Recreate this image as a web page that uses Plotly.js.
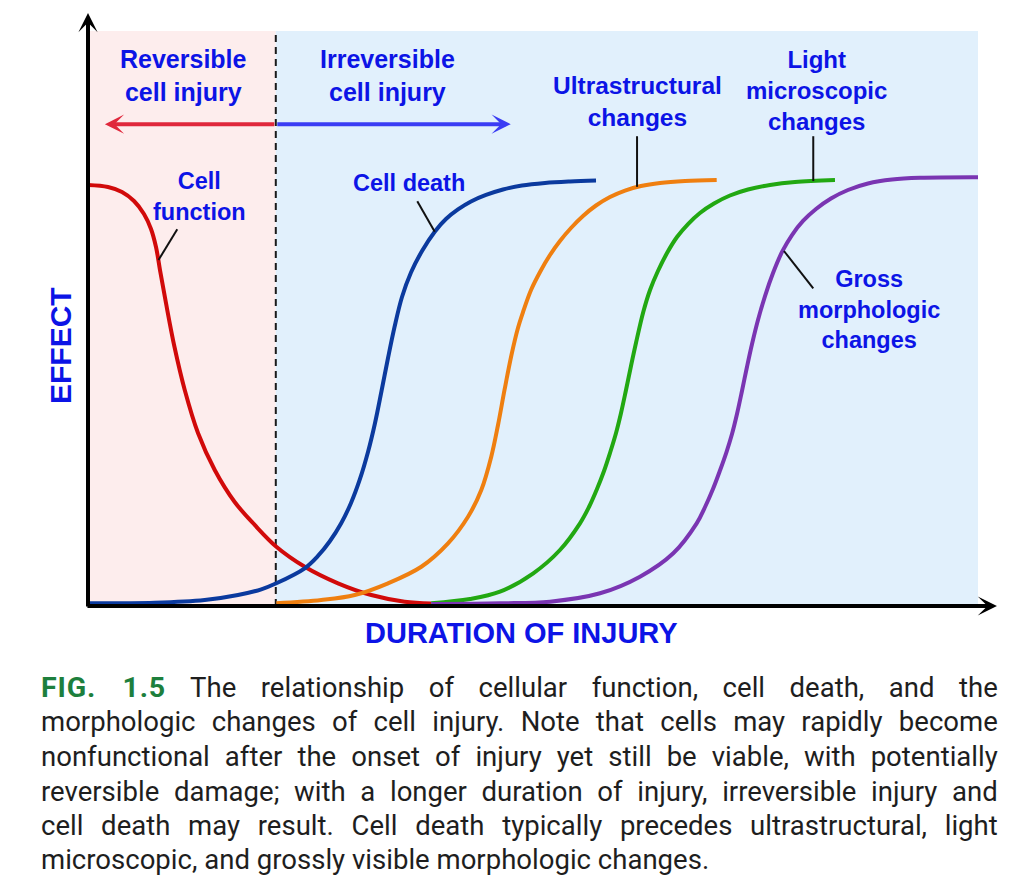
<!DOCTYPE html>
<html>
<head>
<meta charset="utf-8">
<script src="https://cdn.plot.ly/plotly-3.0.1.min.js"></script>
<style>
  html, body { margin:0; padding:0; background:#fff; }
  #wrap { position:relative; width:1024px; height:888px; overflow:hidden; }
  #chart { position:absolute; left:0; top:0; width:1024px; height:888px; }
  .cap { position:absolute; left:41px; height:32px; line-height:32px; white-space:nowrap;
         font-family:Roboto, "Open Sans", sans-serif; font-size:27px; color:#1e1e1e;
         transform-origin:0 50%; transform:scaleX(1.02); width:938px;
         text-align:justify; text-align-last:justify; }
  .cap.last { text-align:left; text-align-last:left; }
  .fig { display:inline-block; color:#1d7f3d; font-weight:bold; font-size:28px; line-height:32px; letter-spacing:0.8px; }
</style>
</head>
<body>
<div id="wrap">
  <div id="chart"></div>
  <div class="cap" style="top:672px;"><span class="fig">FIG.<span style="display:inline-block;width:26px"></span>1.5</span> The relationship of cellular function, cell death, and the</div>
  <div class="cap" style="top:706px;">morphologic changes of cell injury. Note that cells may rapidly become</div>
  <div class="cap" style="top:741px;">nonfunctional after the onset of injury yet still be viable, with potentially</div>
  <div class="cap" style="top:776px;">reversible damage; with a longer duration of injury, irreversible injury and</div>
  <div class="cap" style="top:810px;">cell death may result. Cell death typically precedes ultrastructural, light</div>
  <div class="cap last" style="top:844px;">microscopic, and grossly visible morphologic changes.</div>
</div>
<script>
// ---- Data (duration 0-100, effect 0-100) ----
const cellFunctionX = [0, 2.25, 3.82, 5.17, 6.29, 7.08, 7.64, 8.09, 8.76, 9.72, 10.87, 12.36, 14.24, 16.48, 18.73, 21.16, 24.35, 28.09, 31.83, 35.58, 38.57];
const cellFunctionY = [73.22, 72.87, 72.0, 70.43, 68.17, 65.57, 62.43, 58.43, 52.70, 45.04, 37.57, 30.09, 23.65, 18.09, 14.09, 10.31, 6.83, 3.95, 1.91, 0.75, 0.43];

const cellDeathX = [0, 7.49, 13.11, 16.85, 19.47, 21.16, 24.35, 25.84, 27.19, 28.43, 29.55, 30.56, 31.46, 32.25, 32.98, 33.71, 34.44, 35.28, 36.29, 37.53, 38.96, 40.22, 41.57, 43.03, 44.72, 46.63, 48.76, 51.35, 54.16, 57.08];
const cellDeathY = [0.47, 0.57, 1.04, 1.91, 2.90, 3.95, 6.56, 8.70, 11.30, 14.35, 17.91, 22.09, 26.78, 31.83, 37.39, 43.13, 48.52, 53.74, 58.0, 61.74, 65.10, 67.30, 68.96, 70.35, 71.48, 72.43, 73.13, 73.57, 73.83, 74.0];

const ultraX = [21.16, 26.21, 29.97, 33.71, 37.45, 40.45, 42.70, 44.19, 45.31, 46.07, 46.80, 47.58, 48.31, 48.88, 49.78, 50.79, 51.91, 53.03, 54.27, 55.62, 57.08, 58.65, 60.34, 62.13, 64.27, 67.08, 70.64];
const ultraY = [0.47, 1.04, 1.91, 3.95, 6.83, 10.90, 15.53, 20.17, 25.97, 31.48, 37.57, 43.65, 48.35, 51.13, 54.96, 58.09, 61.04, 63.48, 65.74, 67.83, 69.65, 71.13, 72.26, 73.04, 73.57, 73.91, 74.09];

const lightX = [38.57, 42.92, 46.29, 50.03, 53.03, 55.28, 56.29, 57.19, 57.98, 58.65, 59.33, 59.89, 60.45, 61.01, 61.57, 62.39, 63.15, 64.04, 65.06, 66.18, 67.42, 68.76, 70.34, 72.13, 74.16, 76.63, 79.44, 83.93];
const lightY = [0.47, 1.22, 2.49, 5.69, 9.74, 14.38, 17.22, 20.35, 23.48, 26.61, 30.09, 33.57, 37.57, 41.74, 45.74, 51.13, 54.96, 58.26, 61.39, 64.17, 66.43, 68.35, 70.0, 71.39, 72.43, 73.22, 73.74, 74.09];

const grossX = [38.57, 46.29, 51.91, 57.53, 62.02, 65.76, 68.39, 69.33, 70.22, 71.01, 71.74, 72.36, 72.92, 73.48, 74.04, 74.61, 75.28, 76.07, 76.97, 77.98, 79.10, 80.34, 81.80, 83.48, 85.39, 87.64, 90.34, 93.48, 100];
const grossY = [0.35, 0.47, 0.75, 2.21, 5.10, 9.17, 14.38, 17.22, 20.35, 23.57, 26.78, 29.91, 33.39, 37.39, 41.57, 45.57, 49.74, 53.91, 57.91, 61.57, 64.52, 66.96, 69.04, 70.87, 72.35, 73.48, 74.17, 74.47, 74.56];

const boundaryX = 21.1;   // onset of irreversible injury
const labels = {
  reversible: "Reversible<br>cell injury",
  irreversible: "Irreversible<br>cell injury",
  cellFunction: "Cell<br>function",
  cellDeath: "Cell death",
  ultra: "Ultrastructural<br>changes",
  light: "Light<br>microscopic<br>changes",
  gross: "Gross<br>morphologic<br>changes"
};
const xTitle = "DURATION OF INJURY";
const yTitle = "EFFECT";

// ---- Styling ----
const BLUE_TXT = "#0c14e6";
const FAM = "Liberation Sans, Arial, sans-serif";
function bfont(size) { return {family: FAM, size: size, color: BLUE_TXT, weight: "bold"}; }

function curve(x, y, color, name) {
  return {x: x, y: y, type: "scatter", mode: "lines", name: name, hoverinfo: "skip",
          line: {color: color, width: 4, shape: "spline", smoothing: 1}};
}

const traces = [
  curve(cellFunctionX, cellFunctionY, "#d10a0a", "Cell function"),
  curve(cellDeathX, cellDeathY, "#0b3a9e", "Cell death"),
  curve(ultraX, ultraY, "#ef7f10", "Ultrastructural changes"),
  curve(lightX, lightY, "#22a812", "Light microscopic changes"),
  curve(grossX, grossY, "#7a35b2", "Gross morphologic changes")
];

function leader(x0, y0, x1, y1) {
  return {type: "line", xref: "x", yref: "y", x0: x0, y0: y0, x1: x1, y1: y1,
          line: {color: "#111", width: 2}, layer: "above"};
}

const shapes = [
  {type: "rect", xref: "x", yref: "y", x0: 0, x1: boundaryX, y0: 0, y1: 100,
   fillcolor: "#fdeded", line: {width: 0}, layer: "below"},
  {type: "rect", xref: "x", yref: "y", x0: boundaryX, x1: 100, y0: 0, y1: 100,
   fillcolor: "#e1f0fc", line: {width: 0}, layer: "below"},
  {type: "line", xref: "x", yref: "y", x0: boundaryX, x1: boundaryX, y0: 0, y1: 100,
   line: {color: "#1a1a1a", width: 2, dash: "7px,5px"}, layer: "below"},
  leader(7.92, 60.17, 10.03, 65.51),
  leader(38.96, 65.10, 37.0, 70.4),
  leader(61.69, 72.9, 61.69, 81.7),
  leader(81.49, 73.9, 81.49, 81.7),
  leader(78.2, 61.74, 81.49, 55.25)
];

function txt(x, y, text, size) {
  return {x: x, y: y, xref: "x", yref: "y", text: text, showarrow: false,
          font: bfont(size), align: "center", xanchor: "center", yanchor: "middle"};
}

const annotations = [
  txt(10.7, 92.2, labels.reversible, 25),
  txt(33.6, 92.2, labels.irreversible, 25),
  txt(12.5, 71.3, labels.cellFunction, 23.5),
  txt(36.1, 73.6, labels.cellDeath, 23.5),
  txt(61.7, 87.7, labels.ultra, 24.5),
  txt(81.8, 89.6, labels.light, 24),
  txt(87.8, 51.5, labels.gross, 23.5),
  // axis titles
  {x: -0.0315, y: 0.4539, xref: "paper", yref: "paper", text: yTitle, showarrow: false,
   textangle: -90, font: bfont(30), xanchor: "center", yanchor: "middle"},
  {x: 0.4876, y: -0.047, xref: "paper", yref: "paper", text: xTitle, showarrow: false,
   font: bfont(29), xanchor: "center", yanchor: "middle"},
  // region arrows
  {x: 1.9, y: 83.8, ax: boundaryX, ay: 83.8, xref: "x", yref: "y", axref: "x", ayref: "y",
   text: "", showarrow: true, arrowhead: 3, arrowsize: 0.8, arrowwidth: 4, arrowcolor: "#e0283c"},
  {x: 47.5, y: 83.8, ax: boundaryX, ay: 83.8, xref: "x", yref: "y", axref: "x", ayref: "y",
   text: "", showarrow: true, arrowhead: 3, arrowsize: 0.8, arrowwidth: 4, arrowcolor: "#3a3cf4"},
  // axes with arrow heads
  {x: 1.0213, y: 0, xref: "paper", yref: "paper", ax: -911, ay: 0, text: "", showarrow: true,
   arrowhead: 3, arrowsize: 0.8, arrowwidth: 4, arrowcolor: "#000"},
  {x: 0, y: 1.0313, xref: "paper", yref: "paper", ax: 0, ay: 595, text: "", showarrow: true,
   arrowhead: 3, arrowsize: 0.8, arrowwidth: 4, arrowcolor: "#000"}
];

const layout = {
  width: 1024, height: 888,
  margin: {l: 88, r: 46, t: 31, b: 282, pad: 0},
  paper_bgcolor: "rgba(0,0,0,0)", plot_bgcolor: "rgba(0,0,0,0)",
  showlegend: false,
  xaxis: {range: [0, 100], showgrid: false, zeroline: false, showline: false, ticks: "",
          showticklabels: false, fixedrange: true, automargin: false},
  yaxis: {range: [0, 100], showgrid: false, zeroline: false, showline: false, ticks: "",
          showticklabels: false, fixedrange: true, automargin: false},
  shapes: shapes,
  annotations: annotations
};

Plotly.newPlot("chart", traces, layout, {staticPlot: true, displayModeBar: false});
</script>
</body>
</html>
